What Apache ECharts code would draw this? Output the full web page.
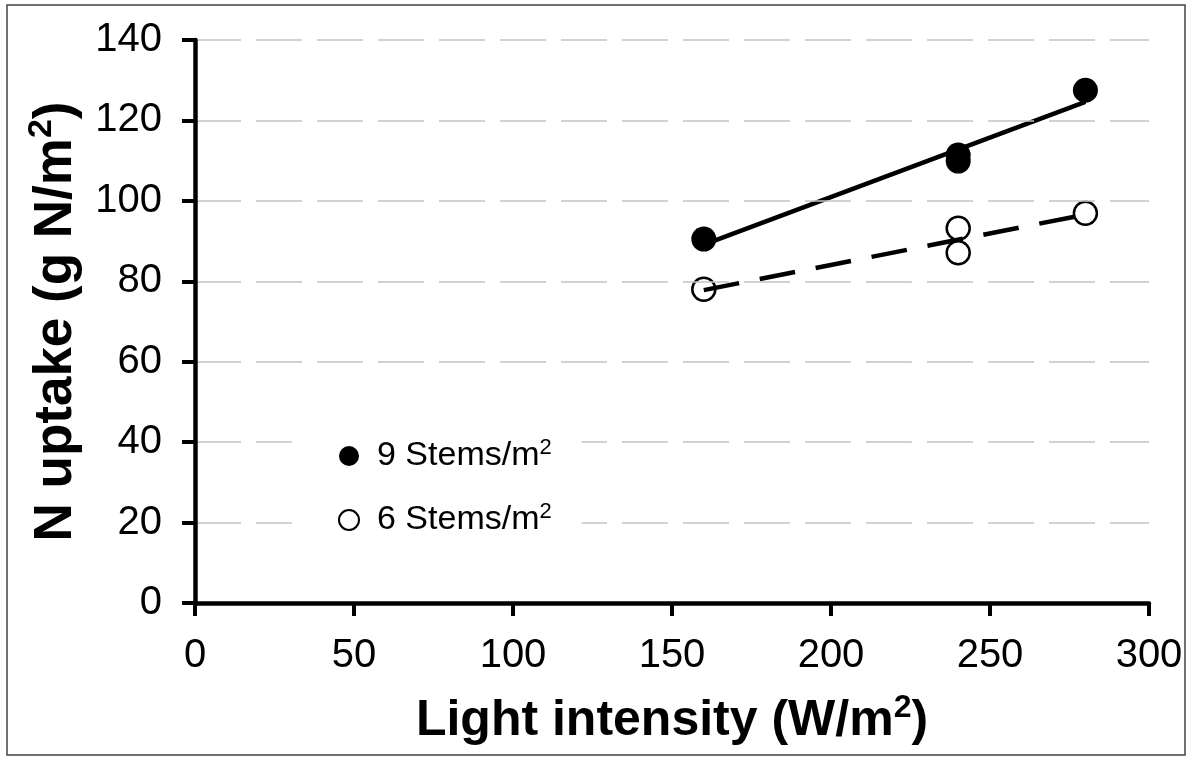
<!DOCTYPE html>
<html>
<head>
<meta charset="utf-8">
<title>N uptake vs light intensity</title>
<script src="https://cdn.jsdelivr.net/npm/echarts@6/dist/echarts.min.js"></script>
<style>
    html, body { margin: 0; padding: 0; background: #fff; }
    #uptakeChart { width: 1192px; height: 760px; }
</style>
</head>
<body>
<div id="uptakeChart"></div>
<script>
// 数据
var seriesNames = ['9 Stems/m2', '6 Stems/m2'];
var lightLevels = [160, 240, 240, 280];
var uptake9 = [90.5, 111.4, 109.9, 127.5];
var uptake6 = [78.0, 93.2, 87.1, 96.9];
// trend lines (ends)
var trendX = [160, 280];
var trend9 = [89.1, 124.6];
var trend6 = [77.8, 96.6];
var xTicks = [0, 50, 100, 150, 200, 250, 300];
var yTicks = [0, 20, 40, 60, 80, 100, 120, 140];

function pairs(xs, ys) {
    var out = [];
    for (var i = 0; i < xs.length; i++) {
        out.push([xs[i], ys[i]]);
    }
    return out;
}

function drawUptake() {
    var font = 'Liberation Sans, Arial, sans-serif';
    // 上标
    function supStyle(size, raise) {
        return { sup: { fontSize: size, fontWeight: 'bold', fontFamily: font, color: '#000', verticalAlign: 'top', padding: [0, 0, raise, 0] } };
    }
    var option = {
        animation: false,
        backgroundColor: '#fff',
        grid: { left: 195, right: 43, top: 40, bottom: 157 },
        legend: {
            orient: 'vertical',
            left: 292,
            top: 417,
            z: 10,
            padding: [20, 30, 20, 46],
            backgroundColor: '#fff',
            itemWidth: 20,
            itemHeight: 20,
            itemGap: 28,
            data: seriesNames,
            formatter: function (name) {
                return '{g|}' + name.replace('m2', 'm{s|2}');
            },
            textStyle: {
                fontSize: 34,
                fontFamily: font,
                color: '#000',
                rich: {
                    g: { width: 13 },
                    s: { fontSize: 22, fontFamily: font, color: '#000', verticalAlign: 'top', padding: [0, 0, 16, 0] }
                }
            }
        },
        xAxis: [{
            type: 'value',
            min: xTicks[0],
            max: xTicks[xTicks.length - 1],
            interval: xTicks[1] - xTicks[0],
            name: 'Light intensity (W/m{sup|2})',
            nameLocation: 'middle',
            nameGap: 89,
            nameTextStyle: { fontSize: 50, fontWeight: 'bold', fontFamily: font, color: '#000', rich: supStyle(32, 26) },
            axisLine: { show: true, onZero: false, lineStyle: { color: '#000', width: 4.5 } },
            axisTick: { show: true, length: 13, lineStyle: { color: '#000', width: 4 } },
            axisLabel: { fontSize: 40, fontFamily: font, color: '#000', margin: 33 },
            splitLine: { show: false },
            z: 5
        }, {
            // 上边框
            type: 'value',
            position: 'top',
            min: xTicks[0],
            max: xTicks[xTicks.length - 1],
            axisLine: { show: true, lineStyle: { color: '#888', width: 2 } },
            axisTick: { show: false },
            axisLabel: { show: false },
            splitLine: { show: false }
        }],
        yAxis: [{
            type: 'value',
            min: yTicks[0],
            max: yTicks[yTicks.length - 1],
            interval: yTicks[1] - yTicks[0],
            name: 'N uptake (g N/m{sup|2})',
            nameLocation: 'middle',
            nameGap: 108,
            nameTextStyle: { fontSize: 53, fontWeight: 'bold', fontFamily: font, color: '#000', rich: supStyle(34, 28) },
            axisLine: { show: true, onZero: false, lineStyle: { color: '#000', width: 4.5 } },
            axisTick: { show: true, length: 13, lineStyle: { color: '#000', width: 4 } },
            axisLabel: { fontSize: 40, fontFamily: font, color: '#000', margin: 33 },
            splitLine: { show: true, lineStyle: { color: '#c4c4c4', width: 1.5, type: [46, 15] } },
            z: 5
        }, {
            // 右边框
            type: 'value',
            position: 'right',
            min: yTicks[0],
            max: yTicks[yTicks.length - 1],
            axisLine: { show: true, lineStyle: { color: '#888', width: 2 } },
            axisTick: { show: false },
            axisLabel: { show: false },
            splitLine: { show: false }
        }],
        graphic: [{
            type: 'rect',
            shape: { x: 7, y: 5, width: 1178, height: 750 },
            style: { fill: 'none', stroke: '#444', lineWidth: 1.5 },
            silent: true,
            z: -1
        }],
        series: [{
            name: seriesNames[0],
            type: 'scatter',
            symbol: 'circle',
            symbolSize: 25,
            itemStyle: { color: '#000', opacity: 1 },
            data: pairs(lightLevels, uptake9),
            z: 3
        }, {
            name: seriesNames[1],
            type: 'scatter',
            symbol: 'circle',
            symbolSize: 23,
            itemStyle: { color: '#fff', borderColor: '#000', borderWidth: 2.5, opacity: 1 },
            data: pairs(lightLevels, uptake6),
            z: 3
        }, {
            name: 'trend9',
            type: 'line',
            symbol: 'none',
            lineStyle: { color: '#000', width: 4.5, type: 'solid' },
            data: pairs(trendX, trend9),
            z: 4
        }, {
            name: 'trend6',
            type: 'line',
            symbol: 'none',
            lineStyle: { color: '#000', width: 4.5, type: [36, 21] },
            data: pairs(trendX, trend6),
            z: 4
        }]
    };
    var myChart = echarts.init(document.getElementById('uptakeChart'));
    myChart.setOption(option);
}
drawUptake();
</script>
</body>
</html>
